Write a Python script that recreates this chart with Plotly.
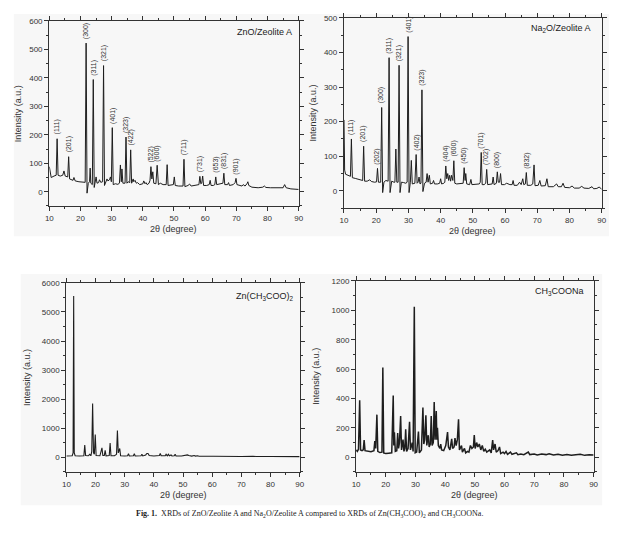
import plotly.graph_objects as go

# ---------------- data ----------------
ZNO_ZEOLITE = [(10.0, 88), (10.3, 60), (10.6, 50), (11.5, 55), (12.2, 58), (12.5, 186), (12.8, 58), (13.5, 55),
    (14.3, 58), (14.7, 73), (15.1, 55), (15.9, 52), (16.2, 123), (16.5, 45), (17.0, 42), (17.6, 40), (17.9, 50),
    (18.3, 38), (19.5, 35), (20.5, 34), (21.5, 33), (21.8, 522), (22.1, -5), (22.5, 30), (22.9, 35), (23.1, 83),
    (23.3, 30), (23.8, 25), (24.1, 394), (24.4, 15), (24.7, 30), (25.0, 52), (25.3, 30), (25.8, 32), (26.1, 42),
    (26.5, 33), (27.1, 35), (27.4, 443), (27.7, 22), (28.2, 38), (28.5, 45), (28.8, 38), (29.3, 42), (29.6, 52),
    (29.9, 35), (30.2, 225), (30.5, 25), (31.2, 28), (32.0, 26), (32.5, 30), (32.8, 94), (33.1, 35), (33.3, 80),
    (33.6, 30), (34.3, 30), (34.6, 192), (34.9, 30), (35.3, 35), (35.8, 32), (36.1, 147), (36.4, 30), (36.9, 45),
    (37.1, 35), (37.5, 40), (37.9, 30), (38.3, 32), (39.0, 25), (40.0, 28), (40.3, 38), (40.7, 28), (41.0, 32),
    (41.4, 25), (42.0, 30), (42.3, 40), (42.6, 88), (42.9, 45), (43.2, 70), (43.5, 30), (44.2, 28), (44.6, 93),
    (45.0, 25), (45.6, 30), (46.5, 25), (47.5, 25), (47.8, 95), (48.1, 22), (49.0, 24), (49.8, 25), (50.1, 52),
    (50.4, 22), (51.5, 20), (52.9, 20), (53.2, 114), (53.5, 18), (54.5, 22), (55.0, 27), (55.5, 20), (57.0, 22),
    (58.0, 25), (58.3, 54), (58.6, 28), (58.9, 30), (59.2, 55), (59.5, 22), (60.5, 22), (61.3, 25), (61.6, 40),
    (61.9, 22), (62.6, 22), (63.1, 25), (63.4, 52), (63.7, 25), (64.8, 28), (65.7, 30), (66.0, 65), (66.3, 25),
    (67.2, 25), (67.5, 32), (67.8, 22), (69.0, 25), (69.6, 32), (69.9, 47), (70.2, 25), (71.0, 22), (71.8, 20),
    (72.2, 25), (72.8, 20), (73.4, 28), (73.7, 35), (74.0, 22), (75.0, 16), (77.0, 14), (78.5, 16), (79.0, 20),
    (79.5, 15), (81.0, 14), (83.0, 13), (85.0, 14), (85.5, 25), (86.0, 14), (87.5, 10), (89.0, 9), (90.0, 8)]

ZNO_LABELS = [(12.5, 186, "(111)"), (16.2, 123, "(201)"), (21.8, 522, "(300)"), (24.1, 394, "(311)"),
    (27.4, 443, "(321)"), (30.2, 225, "(401)"), (34.6, 192, "(323)"), (36.1, 147, "(422)"),
    (42.6, 88, "(522)"), (44.7, 93, "(600)"), (53.2, 114, "(711)"), (58.3, 54, "(731)"),
    (63.4, 52, "(653)"), (66.0, 65, "(831)"), (70.0, 47, "(901)")]

NA2O_ZEOLITE = [(10.0, 205), (10.2, 60), (10.5, 48), (11.2, 45), (12.0, 42), (12.3, 150), (12.6, 38), (13.5, 36),
    (14.5, 34), (15.8, 30), (16.1, 129), (16.4, 28), (17.2, 28), (18.0, 32), (18.5, 27), (19.5, 25), (20.1, 26),
    (20.4, 65), (20.7, 25), (21.4, 25), (21.7, 241), (22.0, -5), (22.4, 25), (23.0, 30), (23.7, 28), (24.0, 385),
    (24.3, -5), (24.8, 28), (25.5, 25), (25.8, 25), (26.1, 121), (26.4, 25), (26.8, 25), (27.1, 363), (27.4, -5),
    (27.8, 25), (28.5, 24), (29.2, 22), (29.6, 25), (29.9, 446), (30.2, -5), (30.6, 25), (30.9, 88), (31.2, 20),
    (32.0, 22), (32.4, 105), (32.7, 22), (33.0, 25), (33.3, 40), (33.6, 20), (33.9, 22), (34.2, 292), (34.5, -2),
    (35.0, 22), (35.5, 25), (35.8, 50), (36.1, 25), (36.5, 45), (36.8, 20), (37.5, 22), (37.8, 30), (38.1, 20),
    (39.0, 20), (39.7, 22), (40.0, 35), (40.3, 20), (41.0, 22), (41.3, 25), (41.6, 72), (41.9, 35), (42.2, 50),
    (42.5, 30), (42.8, 45), (43.1, 28), (43.4, 45), (43.8, 30), (44.1, 87), (44.4, 22), (45.0, 20), (46.0, 20),
    (47.0, 22), (47.3, 67), (47.6, 30), (47.8, 50), (48.1, 20), (49.0, 18), (49.4, 33), (49.7, 18), (51.0, 18),
    (52.0, 20), (52.3, 25), (52.6, 111), (52.9, 18), (53.5, 18), (54.0, 22), (54.3, 62), (54.6, 18), (55.5, 18),
    (56.0, 20), (56.3, 40), (56.6, 18), (57.3, 22), (57.6, 55), (57.9, 25), (58.3, 25), (58.6, 50), (58.9, 18),
    (59.8, 18), (60.5, 22), (61.5, 18), (62.2, 18), (62.5, 30), (62.8, 16), (63.8, 16), (64.5, 25), (65.0, 18),
    (65.5, 35), (65.8, 18), (66.3, 20), (66.6, 53), (66.9, 16), (68.0, 16), (68.6, 20), (69.0, 75), (69.3, 15),
    (70.3, 16), (70.8, 30), (71.2, 14), (72.5, 15), (73.0, 35), (73.4, 12), (75.0, 12), (76.0, 20), (76.5, 12),
    (77.5, 12), (78.0, 22), (78.5, 10), (80.0, 9), (80.8, 14), (81.5, 8), (83.0, 8), (83.8, 13), (84.5, 8),
    (86.0, 7), (87.0, 12), (87.5, 6), (88.5, 7), (89.2, 11), (90.0, 5)]

NA2O_LABELS = [(12.3, 150, "(111)"), (16.1, 129, "(201)"), (20.4, 65, "(202)"), (21.7, 241, "(300)"),
    (24.0, 385, "(311)"), (27.1, 363, "(321)"), (29.9, 446, "(401)"), (32.4, 105, "(402)"),
    (34.2, 292, "(323)"), (41.6, 72, "(404)"), (44.1, 87, "(600)"), (47.3, 67, "(450)"),
    (52.6, 111, "(701)"), (54.3, 62, "(702)"), (57.6, 55, "(800)"), (66.6, 53, "(832)")]

ZN_ACETATE = [(10.0, 40), (11.0, 45), (12.0, 50), (12.3, 150), (12.5, 5545), (12.7, 150), (13.0, 50), (14.5, 45),
    (16.0, 50), (16.3, 420), (16.6, 60), (17.5, 50), (18.0, 100), (18.4, 50), (18.7, 200), (19.0, 1845),
    (19.3, 150), (19.6, 100), (19.9, 785), (20.2, 60), (21.5, 50), (22.2, 320), (22.5, 60), (23.0, 60),
    (23.3, 240), (23.6, 50), (24.7, 60), (25.0, 490), (25.3, 50), (26.5, 50), (27.2, 100), (27.5, 920),
    (27.8, 150), (28.3, 300), (28.6, 50), (30.0, 45), (31.0, 50), (31.3, 120), (31.6, 45), (33.0, 50),
    (33.3, 120), (33.6, 45), (35.6, 50), (35.9, 100), (36.2, 45), (37.2, 80), (37.6, 130), (38.0, 130),
    (38.4, 60), (40.0, 45), (41.9, 60), (42.2, 130), (42.5, 50), (43.9, 50), (44.2, 100), (44.6, 50),
    (45.0, 100), (45.3, 50), (45.9, 80), (46.2, 45), (47.0, 50), (47.3, 100), (47.6, 45), (49.5, 40),
    (51.0, 60), (51.5, 80), (52.0, 60), (53.0, 40), (53.8, 60), (54.3, 40), (55.0, 50), (55.5, 35),
    (57.5, 35), (58.5, 50), (59.0, 35), (60.5, 35), (62.0, 30), (64.0, 35), (66.0, 30), (70.0, 25),
    (74.0, 35), (75.0, 25), (80.0, 25), (85.0, 20), (90.0, 20)]

NA_ACETATE = [(10.0, 50), (10.4, 40), (10.8, 55), (11.2, 387), (11.5, 50), (12.0, 45), (12.4, 50), (12.7, 117),
    (13.0, 45), (14.0, 40), (15.0, 38), (16.0, 45), (16.3, 110), (16.6, 60), (17.0, 290), (17.3, 40),
    (18.0, 32), (18.7, 35), (19.0, 610), (19.3, 30), (20.0, 25), (21.0, 28), (22.0, 30), (22.5, 421),
    (22.7, 80), (22.9, 170), (23.2, 40), (23.7, 45), (24.0, 165), (24.3, 60), (24.6, 100), (25.0, 281),
    (25.3, 50), (25.8, 120), (26.1, 40), (26.4, 60), (26.7, 191), (27.0, 40), (27.5, 60), (28.0, 241),
    (28.3, 50), (28.9, 100), (29.2, 40), (29.6, 1024), (29.9, 30), (30.4, 35), (31.0, 175), (31.3, 30),
    (32.0, 50), (32.5, 338), (32.8, 90), (33.1, 120), (33.5, 286), (33.8, 80), (34.3, 150), (34.6, 70),
    (35.0, 90), (35.3, 281), (35.6, 80), (36.0, 100), (36.3, 376), (36.6, 120), (37.0, 315), (37.2, 120),
    (37.4, 200), (37.7, 80), (38.2, 60), (38.5, 90), (38.8, 50), (39.5, 45), (40.2, 80), (40.8, 171),
    (41.1, 70), (41.6, 50), (42.2, 125), (42.5, 60), (43.0, 70), (43.3, 130), (43.7, 80), (44.1, 120),
    (44.5, 259), (44.8, 50), (45.5, 80), (45.8, 35), (46.5, 60), (46.9, 30), (47.5, 40), (48.0, 35),
    (48.5, 80), (49.0, 60), (49.5, 70), (49.8, 151), (50.1, 60), (50.6, 100), (51.0, 70), (51.5, 90),
    (52.0, 50), (52.5, 80), (53.0, 40), (53.5, 55), (54.0, 35), (55.0, 50), (55.5, 30), (56.0, 117),
    (56.3, 50), (56.8, 90), (57.2, 35), (57.8, 45), (58.3, 70), (58.7, 25), (59.5, 35), (60.0, 25),
    (60.5, 40), (61.0, 20), (62.0, 35), (62.5, 20), (63.5, 25), (64.0, 30), (64.5, 18), (65.5, 22),
    (66.5, 18), (68.0, 35), (68.5, 18), (70.0, 22), (71.0, 16), (72.5, 22), (74.0, 18), (75.0, 24),
    (76.5, 15), (78.0, 20), (79.5, 14), (81.0, 18), (82.5, 14), (84.0, 16), (85.5, 20), (87.0, 13),
    (88.5, 17), (90.0, 15)]

PANEL_NAMES = ["ZnO/Zeolite A", "Na<sub>2</sub>O/Zeolite A", "Zn(CH<sub>3</sub>COO)<sub>2</sub>", "CH<sub>3</sub>COONa"]
X_TICKS = [10, 20, 30, 40, 50, 60, 70, 80, 90]
Y_RANGES = [(-50, 600), (-50, 500), (-500, 6000), (-100, 1200)]
Y_DTICK = [100, 100, 1000, 200]
X_TITLE = "2θ (degree)"
Y_TITLE = "Intensity (a.u.)"
CAPTION = ("<b>Fig. 1.</b>  XRDs of ZnO/Zeolite A and Na<sub>2</sub>O/Zeolite A compared to XRDs of "
           "Zn(CH<sub>3</sub>COO)<sub>2</sub> and CH<sub>3</sub>COONa.")

# ---------------- layout geometry (pixels in a 620x533 page) ----------------
W, H = 620, 533
# (left, right, top, bottom) of each plot frame
FRAMES = [(46, 299, 17, 203.5), (345, 606.5, 14, 205.7), (63.3, 300, 281, 471.3), (357.3, 598.3, 279, 471.5)]
YTITLE_X = [15, 314, 24, 317]
NAME_POS = [(294, 28), (598, 25), (296, 295), (591, 290)]
FONT = "Liberation Sans, Arial, sans-serif"
INK = "#1e1e1e"
AX = "#333333"

def px(x):
    return x / W

def py(y):
    return 1 - y / H

series = [ZNO_ZEOLITE, NA2O_ZEOLITE, ZN_ACETATE, NA_ACETATE]
labels = [ZNO_LABELS, NA2O_LABELS, [], []]
widths = [1.0, 1.0, 1.1, 1.5]

fig = go.Figure()
annotations = []
shapes = [
    dict(type="rect", xref="paper", yref="paper", x0=px(10), x1=px(614), y0=py(234), y1=py(10),
         fillcolor="#f7f7f7", line=dict(width=0), layer="below"),
    dict(type="rect", xref="paper", yref="paper", x0=px(17), x1=px(607), y0=py(505), y1=py(272),
         fillcolor="#f7f7f7", line=dict(width=0), layer="below"),
]

for i, pts in enumerate(series):
    n = "" if i == 0 else str(i + 1)
    xs = [p[0] for p in pts]
    ys = [p[1] for p in pts]
    fig.add_trace(go.Scatter(x=xs, y=ys, mode="lines", xaxis="x" + n, yaxis="y" + n,
                             line=dict(color=INK, width=widths[i]), showlegend=False, hoverinfo="skip"))
    l, r, t, b = FRAMES[i]
    axis_common = dict(showline=True, linecolor=AX, linewidth=1.3, mirror="allticks",
                       ticks="outside", ticklen=4, tickwidth=1.2, tickcolor=AX,
                       showgrid=False, zeroline=False,
                       tickfont=dict(family=FONT, size=8, color="#333"))
    fig.layout["xaxis" + n] = dict(axis_common, domain=[px(l), px(r)], anchor="y" + n,
                                   range=[10, 90], tickvals=X_TICKS,
                                   minor=dict(dtick=5, tick0=10, ticks="outside", ticklen=2, tickcolor=AX))
    y0, y1 = Y_RANGES[i]
    fig.layout["yaxis" + n] = dict(axis_common, domain=[py(b), py(t)], anchor="x" + n,
                                   range=[y0, y1], tick0=0, dtick=Y_DTICK[i],
                                   minor=dict(dtick=Y_DTICK[i] / 2, tick0=0, ticks="outside", ticklen=2,
                                              tickcolor=AX))
    # peak labels
    for (lx, ly, txt) in labels[i]:
        annotations.append(dict(x=lx, y=ly, xref="x" + n, yref="y" + n, text=txt, showarrow=False,
                                textangle=-90, xanchor="center", yanchor="bottom", yshift=2,
                                font=dict(family=FONT, size=7, color="#333")))
    # panel name
    nx, ny = NAME_POS[i]
    annotations.append(dict(x=px(nx), y=py(ny), xref="paper", yref="paper", text=PANEL_NAMES[i],
                            showarrow=False, xanchor="right", yanchor="middle",
                            font=dict(family=FONT, size=9, color="#222")))
    # axis titles
    annotations.append(dict(x=px(YTITLE_X[i]), y=py((t + b) / 2), xref="paper", yref="paper", text=Y_TITLE,
                            showarrow=False, textangle=-90, xanchor="center", yanchor="middle",
                            font=dict(family=FONT, size=9, color="#333")))
    annotations.append(dict(x=px((l + r) / 2), y=py(b + 23), xref="paper", yref="paper", text=X_TITLE,
                            showarrow=False, xanchor="center", yanchor="middle",
                            font=dict(family=FONT, size=9, color="#333")))

annotations.append(dict(x=0.5, y=py(514), xref="paper", yref="paper", text=CAPTION, showarrow=False,
                        xanchor="center", yanchor="middle",
                        font=dict(family="Liberation Serif, Times New Roman, serif", size=8, color="#222")))

fig.update_layout(width=W, height=H, margin=dict(l=0, r=0, t=0, b=0),
                  paper_bgcolor="white", plot_bgcolor="rgba(0,0,0,0)",
                  annotations=annotations, shapes=shapes)

# remove the browser's default 8px body margin so the figure sits at the page origin
fig.write_html("out.html", config={"displayModeBar": False},
               post_script="document.body.style.margin='0';document.body.style.overflow='hidden';")
